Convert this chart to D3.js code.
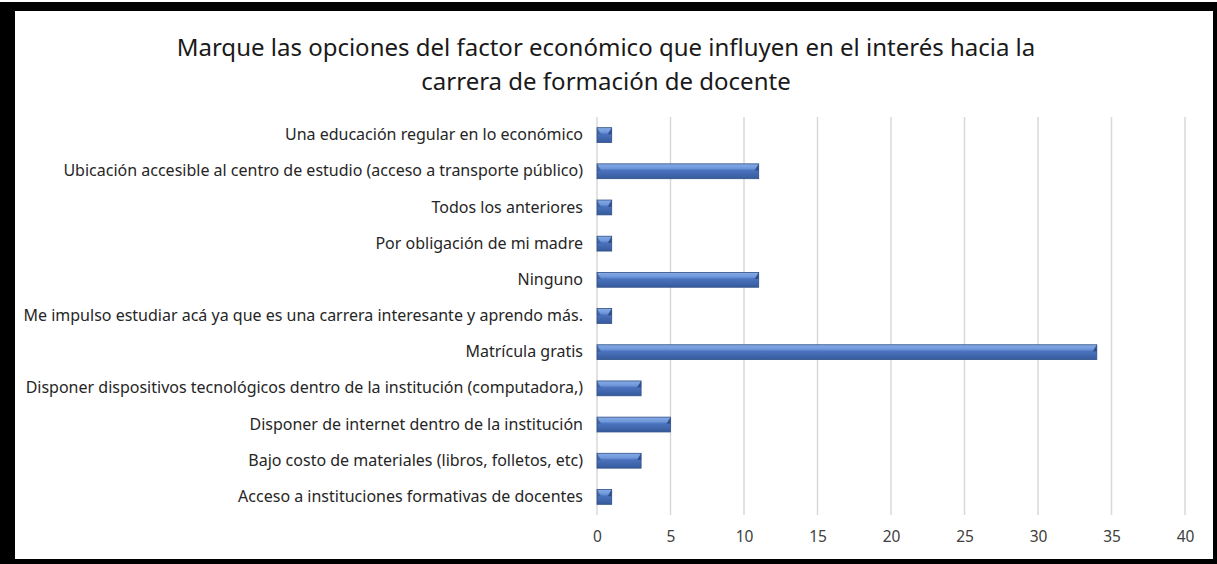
<!DOCTYPE html>
<html>
<head>
<meta charset="utf-8">
<script src="https://cdn.jsdelivr.net/npm/d3@7"></script>
<style>
  body { margin: 0; background: #fff; }
  text { font-family: "Noto Sans", "Open Sans", sans-serif; }
</style>
</head>
<body>
<svg id="chart"></svg>
<script>
const containerWidth  = 1217;
const containerHeight = 564;

const categories = [
  "Una educación regular en lo económico",
  "Ubicación accesible al centro de estudio (acceso a transporte público)",
  "Todos los anteriores",
  "Por obligación de mi madre",
  "Ninguno",
  "Me impulso estudiar acá ya que es una carrera interesante y aprendo más.",
  "Matrícula gratis",
  "Disponer dispositivos tecnológicos dentro de la institución (computadora,)",
  "Disponer de internet dentro de la institución",
  "Bajo costo de materiales (libros, folletos, etc)",
  "Acceso a instituciones formativas de docentes "
];
const values = [1, 11, 1, 1, 11, 1, 34, 3, 5, 3, 1];
const xTicks = [0, 5, 10, 15, 20, 25, 30, 35, 40];
const titleLines = [
  "Marque las opciones del factor económico que influyen en el interés hacia la",
  "carrera de formación de docente"
];

const fontFam = "'Noto Sans', 'Open Sans', sans-serif";

const margin = {top: 117, right: 32, bottom: 49, left: 597};
const chartWidth  = containerWidth - margin.left - margin.right;
const chartHeight = containerHeight - margin.top - margin.bottom;

const root = d3.select("#chart")
  .attr("width", containerWidth)
  .attr("height", containerHeight);

// black frame round the chart area
root.append("rect")
  .attr("x", 0).attr("y", 2)
  .attr("width", containerWidth).attr("height", containerHeight - 2)
  .attr("fill", "#000");
root.append("rect")
  .attr("x", 15).attr("y", 11)
  .attr("width", 1198).attr("height", 548)
  .attr("fill", "#fff");

// bar gradient (bevel look)
const defs = root.append("defs");
const grad = defs.append("linearGradient")
  .attr("id", "barGrad")
  .attr("x1", 0).attr("y1", 0).attr("x2", 0).attr("y2", 1);
[["0%", "#86abe6"], ["30%", "#6f97db"], ["45%", "#4a72bd"], ["100%", "#365a9c"]]
  .forEach(([o, c]) => grad.append("stop").attr("offset", o).attr("stop-color", c));

root.selectAll(".title")
  .data(titleLines)
  .join("text")
  .attr("class", "title")
  .attr("x", 606)
  .attr("y", (d, i) => 56 + i * 34)
  .attr("text-anchor", "middle")
  .attr("font-size", 24)
  .attr("fill", "#1a1a1a")
  .text(d => d);

const svg = root.append("g")
  .attr("transform", `translate(${margin.left},${margin.top})`);

const xScale = d3.scaleLinear()
  .domain([0, 40])
  .range([0, chartWidth]);

const yScale = d3.scaleBand()
  .domain(categories)
  .range([0, chartHeight])
  .paddingInner(0.59)
  .paddingOuter(0.295);

// gridlines
svg.append("g")
  .selectAll("line")
  .data(xTicks)
  .join("line")
  .attr("x1", d => xScale(d)).attr("x2", d => xScale(d))
  .attr("y1", 0).attr("y2", chartHeight)
  .attr("stroke", "#d9d9d9")
  .attr("stroke-width", 1.5);

// x axis, labels only
svg.append("g")
  .attr("transform", `translate(0,${chartHeight})`)
  .call(d3.axisBottom(xScale).tickValues(xTicks).tickSize(0).tickPadding(16))
  .call(g => g.select(".domain").remove())
  .call(g => g.selectAll("text")
    .attr("font-family", fontFam)
    .attr("font-size", 15.5)
    .attr("fill", "#404040"));

// y axis, labels only
svg.append("g")
  .call(d3.axisLeft(yScale).tickSize(0).tickPadding(14))
  .call(g => g.select(".domain").remove())
  .call(g => g.selectAll("text")
    .attr("font-family", fontFam)
    .attr("font-size", 16)
    .attr("fill", "#262626"));

const bars = svg.append("g")
  .selectAll("g")
  .data(categories.map((c, i) => ({cat: c, val: values[i]})))
  .join("g")
  .attr("transform", d => `translate(0,${yScale(d.cat)})`);

const bh = yScale.bandwidth();

bars.append("rect")
  .attr("x", 0).attr("y", 0)
  .attr("width", d => xScale(d.val))
  .attr("height", bh)
  .attr("fill", "url(#barGrad)")
  .attr("stroke", "#2f4f86")
  .attr("stroke-width", 0.8);

// right-end bevel
bars.append("path")
  .attr("d", d => {
    const w = xScale(d.val);
    return `M${w},0 L${w},${bh * 0.45} L${w - 4},${bh * 0.45} Z`;
  })
  .attr("fill", "#2f4f86");

// left-end bevel
bars.append("path")
  .attr("d", `M0,0 L4,${bh * 0.45} L0,${bh * 0.45} Z`)
  .attr("fill", "#2f4f86")
  .attr("opacity", 0.6);
</script>
</body>
</html>
